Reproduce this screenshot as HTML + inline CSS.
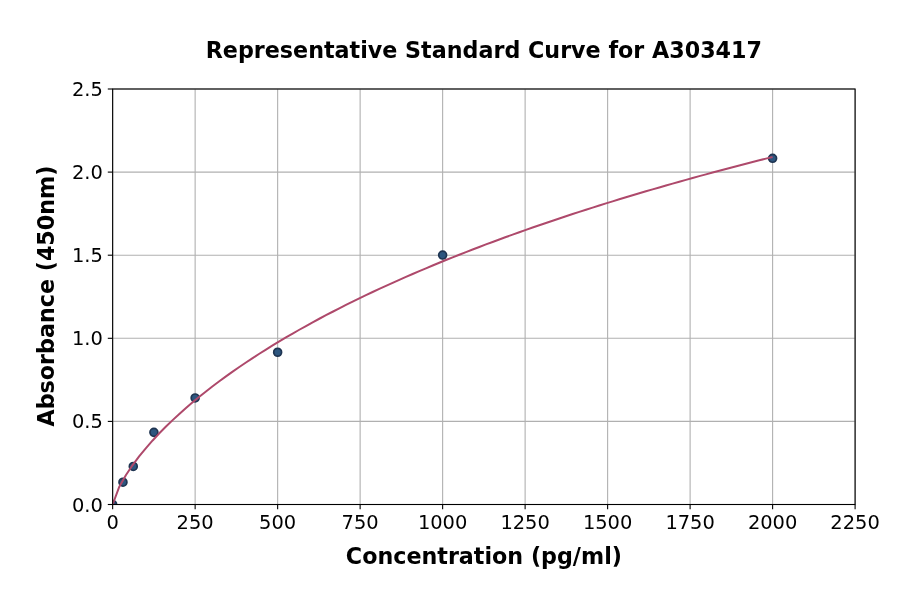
<!DOCTYPE html>
<html lang="en"><head><meta charset="utf-8"><title>Representative Standard Curve for A303417</title>
<style>
html,body{margin:0;padding:0;background:#fff;}
body{width:900px;height:594px;overflow:hidden;}
svg{display:block;}
text{font-family:'DejaVu Sans','Liberation Sans',sans-serif;fill:#000;}
.tick{font-size:19.44px;}
.lbl{font-size:22.22px;font-weight:bold;}
</style></head><body>
<svg width="900" height="594" viewBox="0 0 900 594">
<rect width="900" height="594" fill="#ffffff"/>
<defs><clipPath id="ax"><rect x="112.65" y="89.0" width="742.45" height="415.5"/></clipPath></defs>

<g stroke="#b0b0b0" stroke-width="1.1" fill="none">
<line x1="112.65" y1="89.0" x2="112.65" y2="504.5"/>
<line x1="195.14" y1="89.0" x2="195.14" y2="504.5"/>
<line x1="277.64" y1="89.0" x2="277.64" y2="504.5"/>
<line x1="360.13" y1="89.0" x2="360.13" y2="504.5"/>
<line x1="442.63" y1="89.0" x2="442.63" y2="504.5"/>
<line x1="525.12" y1="89.0" x2="525.12" y2="504.5"/>
<line x1="607.62" y1="89.0" x2="607.62" y2="504.5"/>
<line x1="690.11" y1="89.0" x2="690.11" y2="504.5"/>
<line x1="772.61" y1="89.0" x2="772.61" y2="504.5"/>
<line x1="855.10" y1="89.0" x2="855.10" y2="504.5"/>
<line x1="112.65" y1="504.50" x2="855.1" y2="504.50"/>
<line x1="112.65" y1="421.40" x2="855.1" y2="421.40"/>
<line x1="112.65" y1="338.30" x2="855.1" y2="338.30"/>
<line x1="112.65" y1="255.20" x2="855.1" y2="255.20"/>
<line x1="112.65" y1="172.10" x2="855.1" y2="172.10"/>
<line x1="112.65" y1="89.00" x2="855.1" y2="89.00"/>
</g>
<g clip-path="url(#ax)">
<g fill="#2d567f" stroke="#1f3552" stroke-width="1.7">
<circle cx="112.65" cy="504.50" r="3.95"/>
<circle cx="122.96" cy="482.23" r="3.95"/>
<circle cx="133.27" cy="466.44" r="3.95"/>
<circle cx="153.90" cy="432.37" r="3.95"/>
<circle cx="195.14" cy="397.97" r="3.95"/>
<circle cx="277.64" cy="352.26" r="3.95"/>
<circle cx="442.63" cy="255.03" r="3.95"/>
<circle cx="772.61" cy="158.31" r="3.95"/>
</g>
<polyline points="112.65,504.50 119.32,486.66 125.98,474.98 132.65,465.06 139.31,456.18 145.98,448.04 152.65,440.45 159.31,433.32 165.98,426.55 172.65,420.10 179.31,413.93 185.98,408.01 192.64,402.30 199.31,396.78 205.98,391.45 212.64,386.28 219.31,381.26 225.98,376.38 232.64,371.63 239.31,367.00 245.97,362.48 252.64,358.07 259.31,353.77 265.97,349.55 272.64,345.43 279.31,341.39 285.97,337.44 292.64,333.56 299.30,329.75 305.97,326.02 312.64,322.35 319.30,318.75 325.97,315.21 332.64,311.74 339.30,308.32 345.97,304.95 352.63,301.64 359.30,298.38 365.97,295.17 372.63,292.01 379.30,288.90 385.96,285.83 392.63,282.81 399.30,279.82 405.96,276.88 412.63,273.98 419.30,271.12 425.96,268.30 432.63,265.51 439.29,262.76 445.96,260.05 452.63,257.36 459.29,254.71 465.96,252.10 472.63,249.51 479.29,246.96 485.96,244.43 492.62,241.94 499.29,239.47 505.96,237.03 512.62,234.62 519.29,232.24 525.96,229.88 532.62,227.54 539.29,225.23 545.95,222.95 552.62,220.69 559.29,218.45 565.95,216.24 572.62,214.05 579.29,211.88 585.95,209.73 592.62,207.60 599.28,205.50 605.95,203.41 612.62,201.35 619.28,199.30 625.95,197.27 632.61,195.27 639.28,193.28 645.95,191.31 652.61,189.35 659.28,187.42 665.95,185.50 672.61,183.60 679.28,181.71 685.94,179.84 692.61,177.99 699.28,176.16 705.94,174.34 712.61,172.53 719.28,170.74 725.94,168.97 732.61,167.21 739.27,165.46 745.94,163.73 752.61,162.01 759.27,160.31 765.94,158.62 772.61,156.94" fill="none" stroke="#ae496b" stroke-width="2.0" stroke-linejoin="round" stroke-linecap="butt"/>
</g>
<g stroke="#000" stroke-width="1.1" fill="none">
<line x1="112.65" y1="504.5" x2="112.65" y2="509.36"/>
<line x1="195.14" y1="504.5" x2="195.14" y2="509.36"/>
<line x1="277.64" y1="504.5" x2="277.64" y2="509.36"/>
<line x1="360.13" y1="504.5" x2="360.13" y2="509.36"/>
<line x1="442.63" y1="504.5" x2="442.63" y2="509.36"/>
<line x1="525.12" y1="504.5" x2="525.12" y2="509.36"/>
<line x1="607.62" y1="504.5" x2="607.62" y2="509.36"/>
<line x1="690.11" y1="504.5" x2="690.11" y2="509.36"/>
<line x1="772.61" y1="504.5" x2="772.61" y2="509.36"/>
<line x1="855.10" y1="504.5" x2="855.10" y2="509.36"/>
<line x1="107.79" y1="504.50" x2="112.65" y2="504.50"/>
<line x1="107.79" y1="421.40" x2="112.65" y2="421.40"/>
<line x1="107.79" y1="338.30" x2="112.65" y2="338.30"/>
<line x1="107.79" y1="255.20" x2="112.65" y2="255.20"/>
<line x1="107.79" y1="172.10" x2="112.65" y2="172.10"/>
<line x1="107.79" y1="89.00" x2="112.65" y2="89.00"/>
<rect x="112.65" y="89.0" width="742.45" height="415.5" stroke-linejoin="miter"/>
</g>
<g class="tick">
<text x="112.65" y="528.6" text-anchor="middle">0</text>
<text x="195.14" y="528.6" text-anchor="middle">250</text>
<text x="277.64" y="528.6" text-anchor="middle">500</text>
<text x="360.13" y="528.6" text-anchor="middle">750</text>
<text x="442.63" y="528.6" text-anchor="middle">1000</text>
<text x="525.12" y="528.6" text-anchor="middle">1250</text>
<text x="607.62" y="528.6" text-anchor="middle">1500</text>
<text x="690.11" y="528.6" text-anchor="middle">1750</text>
<text x="772.61" y="528.6" text-anchor="middle">2000</text>
<text x="855.10" y="528.6" text-anchor="middle">2250</text>
<text x="102.8" y="511.50" text-anchor="end">0.0</text>
<text x="102.8" y="428.40" text-anchor="end">0.5</text>
<text x="102.8" y="345.30" text-anchor="end">1.0</text>
<text x="102.8" y="262.20" text-anchor="end">1.5</text>
<text x="102.8" y="179.10" text-anchor="end">2.0</text>
<text x="102.8" y="96.00" text-anchor="end">2.5</text>
</g>
<text class="lbl" x="483.88" y="563.6" text-anchor="middle">Concentration (pg/ml)</text>
<text class="lbl" transform="translate(54.0,296.05) rotate(-90)" text-anchor="middle">Absorbance (450nm)</text>
<text class="lbl" x="483.88" y="57.7" text-anchor="middle">Representative Standard Curve for A303417</text>
</svg></body></html>
